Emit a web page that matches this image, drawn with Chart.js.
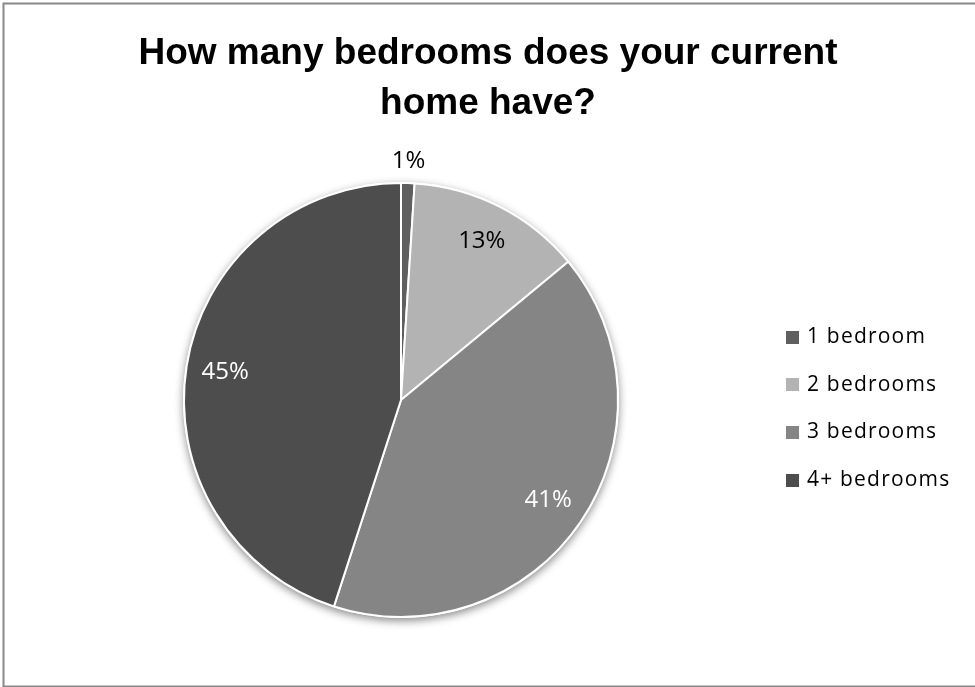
<!DOCTYPE html>
<html>
<head>
<meta charset="utf-8">
<script src="https://cdn.jsdelivr.net/npm/chart.js@4/dist/chart.umd.min.js"></script>
<style>
  html, body { margin: 0; padding: 0; background: #fff; }
  #wrap { width: 975px; height: 687px; position: relative; }
</style>
</head>
<body>
<div id="wrap"><canvas id="c" width="975" height="687"></canvas></div>
<script>
const titleLines = ['How many bedrooms does your current', 'home have?'];
const categories = ['1 bedroom', '2 bedrooms', '3 bedrooms', '4+ bedrooms'];
const shares = [1, 13, 41, 45];
const sliceColors = ['#5f5f5f', '#b3b3b3', '#858585', '#4d4d4d'];

function lum(hex) {
  const n = parseInt(hex.slice(1), 16);
  return (((n >> 16) & 255) * 0.299 + ((n >> 8) & 255) * 0.587 + (n & 255) * 0.114) / 255;
}

const framePlugin = {
  id: 'frame',
  beforeDraw(chart) {
    const ctx = chart.ctx;
    ctx.save();
    ctx.fillStyle = '#ffffff';
    ctx.fillRect(0, 0, chart.width, chart.height);
    ctx.strokeStyle = '#888888';
    ctx.lineWidth = 2;
    ctx.strokeRect(3.5, 3.5, chart.width + 20, chart.height - 4);
    // title
    ctx.fillStyle = '#000';
    ctx.font = 'bold 37px "Liberation Sans", Arial, sans-serif';
    ctx.textAlign = 'center';
    ctx.textBaseline = 'alphabetic';
    ctx.fillText(titleLines[0], 488, 64);
    ctx.fillText(titleLines[1], 488, 114);
    ctx.restore();
  },
  beforeDatasetsDraw(chart) {
    const meta = chart.getDatasetMeta(0);
    if (!meta.data.length) return;
    const a = meta.data[0];
    const ctx = chart.ctx;
    ctx.save();
    ctx.shadowColor = 'rgba(0,0,0,0.45)';
    ctx.shadowBlur = 9;
    ctx.shadowOffsetY = 3;
    ctx.fillStyle = '#ffffff';
    ctx.beginPath();
    ctx.arc(a.x, a.y, a.outerRadius + 1, 0, Math.PI * 2);
    ctx.fill();
    ctx.restore();
  },
  afterDatasetsDraw(chart) {
    const meta = chart.getDatasetMeta(0);
    const ctx = chart.ctx;
    const total = shares.reduce((s, v) => s + v, 0);
    ctx.save();
    ctx.font = '24px "Open Sans", sans-serif';
    ctx.textAlign = 'center';
    ctx.textBaseline = 'middle';
    meta.data.forEach((arc, i) => {
      const mid = (arc.startAngle + arc.endAngle) / 2;
      const frac = shares[i] / total;
      let r, color;
      if (frac < 0.03) { r = arc.outerRadius + 22; color = '#000'; }
      else { r = arc.outerRadius * 0.82; color = lum(sliceColors[i]) < 0.6 ? '#fff' : '#000'; }
      const x = arc.x + Math.cos(mid) * r;
      const y = arc.y + Math.sin(mid) * r;
      ctx.fillStyle = color;
      ctx.fillText(Math.round(frac * 100) + '%', x, y);
    });
    // legend
    ctx.font = '21px "Open Sans", sans-serif';
    ctx.textAlign = 'left';
    ctx.textBaseline = 'middle';
    try { ctx.letterSpacing = '1.2px'; } catch (e) {}
    categories.forEach((lab, i) => {
      const y = 337 + i * 47.7;
      ctx.fillStyle = sliceColors[i];
      ctx.fillRect(786, Math.round(y - 6.5), 13, 13);
      ctx.fillStyle = '#000';
      ctx.fillText(lab, 807, y);
    });
    ctx.restore();
  }
};

new Chart(document.getElementById('c'), {
  type: 'pie',
  data: {
    labels: categories,
    datasets: [{
      data: shares,
      backgroundColor: sliceColors,
      borderColor: '#ffffff',
      borderWidth: 2,
      hoverOffset: 0
    }]
  },
  options: {
    responsive: false,
    animation: false,
    layout: { padding: { top: 182, bottom: 69, left: 20, right: 193 } },
    plugins: {
      legend: { display: false },
      title: { display: false },
      tooltip: { enabled: false }
    }
  },
  plugins: [framePlugin]
});
</script>
</body>
</html>
